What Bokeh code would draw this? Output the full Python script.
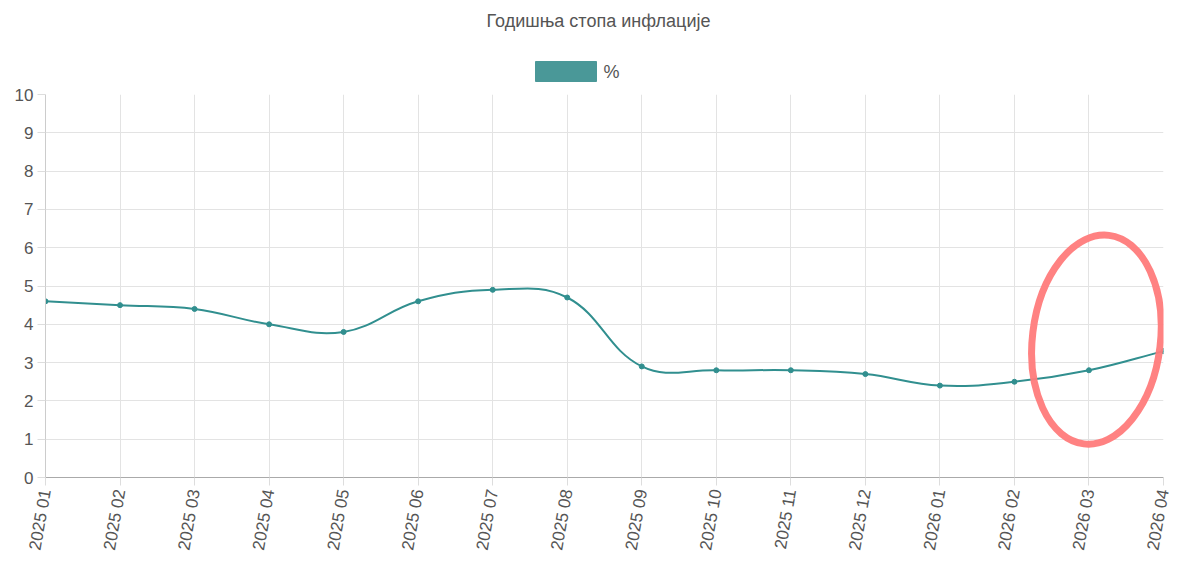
import numpy as np
from bokeh.plotting import figure
from bokeh.layouts import column
from bokeh.models import Range1d, FixedTicker, ColumnDataSource
from bokeh.core.properties import value
from bokeh.embed import file_html
from bokeh.resources import INLINE

# ---- data ----
months = ["2025 01", "2025 02", "2025 03", "2025 04", "2025 05", "2025 06",
          "2025 07", "2025 08", "2025 09", "2025 10", "2025 11", "2025 12",
          "2026 01", "2026 02", "2026 03", "2026 04"]
inflation = [4.6, 4.5, 4.4, 4.0, 3.8, 4.6, 4.9, 4.7, 2.9, 2.8, 2.8, 2.7,
             2.4, 2.5, 2.8, 3.3]
y_ticks = list(range(0, 11))
title_text = "Годишња стопа инфлације"
series_label = "%"

LINE_COLOR = "#318f8f"
LEGEND_COLOR = "#4a9898"
TEXT_COLOR = "#555555"
FONT = "Liberation Sans"

W = 1192
HEAD_H = 86
H = 491
LEFT, RIGHT, TOP, BOTTOM = 45, 29, 8, 100
frame_w = W - LEFT - RIGHT
frame_h = H - TOP - BOTTOM

# ---- header (title + legend), in page pixel units ----
head = figure(width=W, height=HEAD_H, output_backend="svg", toolbar_location=None,
              x_range=Range1d(LEFT, W - RIGHT), y_range=Range1d(0, HEAD_H),
              min_border_left=LEFT, min_border_right=RIGHT,
              min_border_top=0, min_border_bottom=0,
              x_axis_type=None, y_axis_type=None)
head.outline_line_color = None
head.grid.visible = False
head.text(x=[598], y=[HEAD_H - 20], text=[title_text], text_align="center",
          text_baseline="middle", text_font=value(FONT), text_font_size="18px",
          text_color=TEXT_COLOR)
head.rect(x=[565.5], y=[HEAD_H - 71], width=61, height=20, fill_color=LEGEND_COLOR,
          line_color=LEGEND_COLOR)
head.text(x=[603], y=[HEAD_H - 71], text=[series_label], text_align="left",
          text_baseline="middle", text_font=value(FONT), text_font_size="18px",
          text_color=TEXT_COLOR)

# ---- main chart ----
x = np.arange(len(months), dtype=float)
y = np.array(inflation, dtype=float)

# Chart.js-like spline (tension 0.4), computed in screen space
sx = frame_w / (len(months) - 1)
sy = frame_h / 10.0
px, py = x * sx, y * sy
t = 0.4
cpl, cpr = [], []
n = len(x)
for i in range(n):
    pi = max(i - 1, 0)
    ni = min(i + 1, n - 1)
    d01 = np.hypot(px[i] - px[pi], py[i] - py[pi])
    d12 = np.hypot(px[ni] - px[i], py[ni] - py[i])
    tot = d01 + d12
    s01 = d01 / tot if tot else 0
    s12 = d12 / tot if tot else 0
    fa, fb = t * s01, t * s12
    cpl.append((px[i] - fa * (px[ni] - px[pi]), py[i] - fa * (py[ni] - py[pi])))
    cpr.append((px[i] + fb * (px[ni] - px[pi]), py[i] + fb * (py[ni] - py[pi])))

bez = dict(x0=x[:-1], y0=y[:-1], x1=x[1:], y1=y[1:],
           cx0=[cpr[i][0] / sx for i in range(n - 1)],
           cy0=[cpr[i][1] / sy for i in range(n - 1)],
           cx1=[cpl[i + 1][0] / sx for i in range(n - 1)],
           cy1=[cpl[i + 1][1] / sy for i in range(n - 1)])

p = figure(width=W, height=H, output_backend="svg", toolbar_location=None,
           x_range=Range1d(0, len(months) - 1), y_range=Range1d(0, 10),
           min_border_left=LEFT, min_border_right=RIGHT,
           min_border_top=TOP, min_border_bottom=BOTTOM)
p.outline_line_color = None
p.background_fill_color = "white"

p.bezier(x0="x0", y0="y0", x1="x1", y1="y1", cx0="cx0", cy0="cy0",
         cx1="cx1", cy1="cy1", source=ColumnDataSource(bez),
         line_color=LINE_COLOR, line_width=2)
p.scatter(x, y, size=5, fill_color=LINE_COLOR, line_color=LINE_COLOR)

# highlight annotation around the last two points
p.ellipse(x=[(x[-1] + x[-2]) / 2 - 0.4], y=[(y[-1] + y[-2]) / 2 + 0.55],
          width=[128], height=[210], width_units="screen", height_units="screen",
          angle=[-0.12], fill_color=None, line_color="#ff7b7b",
          line_width=7, line_alpha=0.95)

# axes
p.xaxis.ticker = FixedTicker(ticks=list(x))
overrides = {}
for i, m in enumerate(months):
    overrides[i] = m
    overrides[float(i)] = m
p.xaxis.major_label_overrides = overrides
p.xaxis.major_label_orientation = float(np.deg2rad(80))
p.yaxis.ticker = FixedTicker(ticks=y_ticks)

for ax in (p.xaxis[0], p.yaxis[0]):
    ax.major_label_text_font = FONT
    ax.major_label_text_font_size = "17px"
    ax.major_label_text_color = TEXT_COLOR
    ax.minor_tick_line_color = None
    ax.major_tick_in = 0
    ax.major_tick_out = 8
    ax.major_tick_line_color = "#dddddd"
    ax.major_label_standoff = 4
p.xaxis.axis_line_color = "#aaaaaa"
p.yaxis.axis_line_color = "#cccccc"

p.xgrid.ticker = FixedTicker(ticks=list(x))
p.ygrid.ticker = FixedTicker(ticks=y_ticks)
p.grid.grid_line_color = "#e3e3e3"

layout = column(head, p, spacing=0)
open("out.html", "w").write(file_html(layout, INLINE))
